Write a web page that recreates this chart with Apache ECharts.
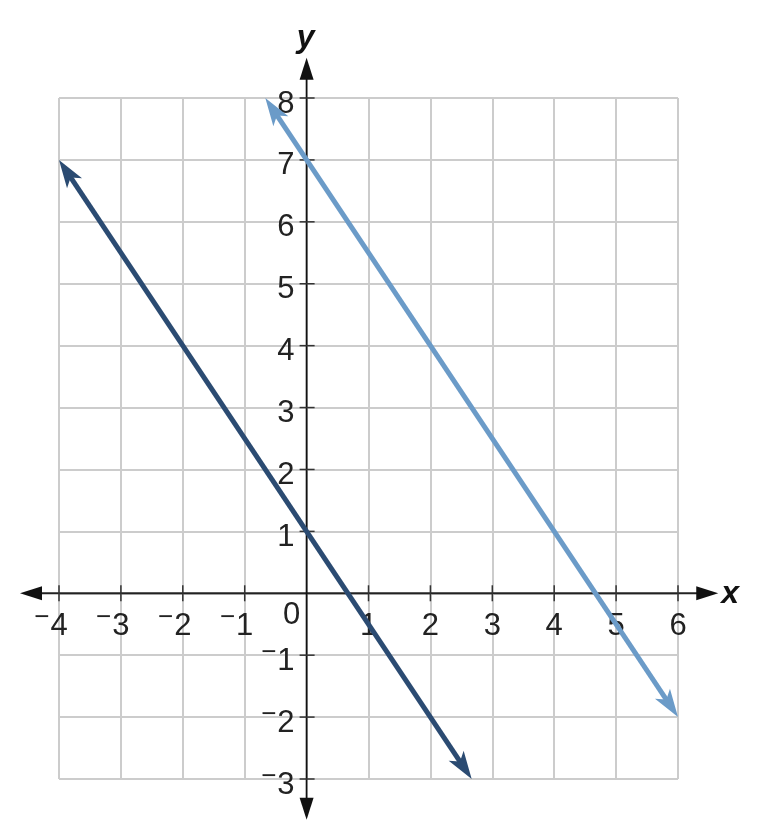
<!DOCTYPE html>
<html>
<head>
<meta charset="utf-8">
<script src="https://cdn.jsdelivr.net/npm/echarts@6/dist/echarts.min.js"></script>
<style>html,body{margin:0;padding:0;background:#fff}#c{width:766px;height:838px}</style>
</head>
<body>
<div id="c"></div>
<script>
// ---- data ----
const xRange = [-4, 6];
const yRange = [-3, 8];
const xAxisExtent = [-4.63, 6.65];   // arrow tips of the x axis
const yAxisExtent = [-3.66, 8.65];   // arrow tips of the y axis
const xTickValues = [-4, -3, -2, -1, 1, 2, 3, 4, 5, 6];
const xTickLabels = ['−4', '−3', '−2', '−1', '1', '2', '3', '4', '5', '6'];
const yTickValues = [-3, -2, -1, 1, 2, 3, 4, 5, 6, 7, 8];
const yTickLabels = ['−3', '−2', '−1', '1', '2', '3', '4', '5', '6', '7', '8'];
// lines: y = -1.5x + 1 (dark), y = -1.5x + 7 (light)
const darkLine = [[-4, 7], [2.667, -3]];
const lightLine = [[-0.667, 8], [6, -2]];

const FONT = '"Liberation Sans", Arial, sans-serif';
const FS = 31, DIGIT_W = 0.556 * FS;

function arrowHead(tip, from, L, W, notch, fill) {
  const dx = tip[0] - from[0], dy = tip[1] - from[1];
  const len = Math.hypot(dx, dy);
  const ux = dx / len, uy = dy / len;
  const px = -uy, py = ux;
  const bx = tip[0] - ux * L, by = tip[1] - uy * L;
  const nx = tip[0] - ux * (L - notch), ny = tip[1] - uy * (L - notch);
  return {
    type: 'polygon',
    shape: { points: [tip, [bx + px * W, by + py * W], [nx, ny], [bx - px * W, by - py * W]] },
    style: { fill: fill }
  };
}

// label = digits (centered / right aligned) + raised minus as its own text piece
function labelEls(label, x, y, align) {
  const neg = label.charAt(0) === '−';
  const digits = neg ? label.slice(1) : label;
  const w = digits.length * DIGIT_W;
  const left = align === 'center' ? x - w / 2 : x - w;
  const els = [{ type: 'text', x: x, y: y,
    style: { text: digits, fill: '#222', font: FS + 'px ' + FONT, align: align, verticalAlign: 'middle' } }];
  if (neg) {
    els.push({ type: 'text', x: left - 1, y: y - 8,
      style: { text: '−', fill: '#222', font: '26px ' + FONT, align: 'right', verticalAlign: 'middle' } });
  }
  return els;
}

const chart = echarts.init(document.getElementById('c'));
chart.setOption({
  animation: false,
  grid: { left: 59, right: 88, top: 98, bottom: 59, containLabel: false },
  xAxis: {
    type: 'value', min: xRange[0], max: xRange[1], interval: 1,
    axisLine: { show: false }, axisTick: { show: false }, axisLabel: { show: false },
    splitLine: { show: true, showMinLine: true, showMaxLine: true, lineStyle: { color: '#cccccc', width: 2 } }
  },
  yAxis: {
    type: 'value', min: yRange[0], max: yRange[1], interval: 1,
    axisLine: { show: false }, axisTick: { show: false }, axisLabel: { show: false },
    splitLine: { show: true, showMinLine: true, showMaxLine: true, lineStyle: { color: '#cccccc', width: 2 } }
  },
  series: [
    {
      type: 'custom', name: 'axes', clip: false, silent: true, z: 3,
      data: [[0, 0]],
      renderItem: function (params, api) {
        const ch = [];
        const o = api.coord([0, 0]);
        const xl = api.coord([xAxisExtent[0], 0]), xr = api.coord([xAxisExtent[1], 0]);
        const yb = api.coord([0, yAxisExtent[0]]), yt = api.coord([0, yAxisExtent[1]]);
        ch.push({ type: 'line', shape: { x1: xl[0] + 10, y1: o[1], x2: xr[0] - 10, y2: o[1] }, style: { stroke: '#222', lineWidth: 2 } });
        ch.push({ type: 'line', shape: { x1: o[0], y1: yb[1] - 10, x2: o[0], y2: yt[1] + 10 }, style: { stroke: '#111', lineWidth: 1.8 } });
        ch.push(arrowHead([xl[0], o[1]], [o[0], o[1]], 22, 7, 0, '#111'));
        ch.push(arrowHead([xr[0], o[1]], [o[0], o[1]], 22, 7, 0, '#111'));
        ch.push(arrowHead([o[0], yt[1]], [o[0], o[1]], 22, 7, 0, '#111'));
        ch.push(arrowHead([o[0], yb[1]], [o[0], o[1]], 22, 7, 0, '#111'));
        xTickValues.forEach(function (v, i) {
          const p = api.coord([v, 0]);
          ch.push({ type: 'line', shape: { x1: p[0], y1: p[1] - 8, x2: p[0], y2: p[1] + 8 }, style: { stroke: '#333', lineWidth: 1.5 } });
          labelEls(xTickLabels[i], p[0], p[1] + 33, 'center').forEach(function (e) { ch.push(e); });
        });
        yTickValues.forEach(function (v, i) {
          const p = api.coord([0, v]);
          ch.push({ type: 'line', shape: { x1: p[0] - 7, y1: p[1], x2: p[0] + 8, y2: p[1] }, style: { stroke: '#333', lineWidth: 1.5 } });
          labelEls(yTickLabels[i], p[0] - 12, p[1] + 6, 'right').forEach(function (e) { ch.push(e); });
        });
        ch.push({ type: 'text', x: o[0] - 15, y: o[1] + 22,
          style: { text: '0', fill: '#222', font: FS + 'px ' + FONT, align: 'center', verticalAlign: 'middle' } });
        ch.push({ type: 'text', x: xr[0] + 12, y: o[1] + 1,
          style: { text: 'x', fill: '#111', font: 'italic bold 32px ' + FONT, align: 'center', verticalAlign: 'middle' } });
        ch.push({ type: 'text', x: o[0] - 1, y: yt[1] - 20,
          style: { text: 'y', fill: '#111', font: 'italic bold 32px ' + FONT, align: 'center', verticalAlign: 'middle' } });
        return { type: 'group', children: ch };
      }
    },
    {
      type: 'custom', name: 'lines', clip: false, z: 4,
      data: [
        [darkLine[0][0], darkLine[0][1], darkLine[1][0], darkLine[1][1], 0],
        [lightLine[0][0], lightLine[0][1], lightLine[1][0], lightLine[1][1], 1]
      ],
      renderItem: function (params, api) {
        const colors = ['#2b4b72', '#6b9bc8'];
        const c = colors[api.value(4)];
        const a = api.coord([api.value(0), api.value(1)]);
        const b = api.coord([api.value(2), api.value(3)]);
        const dx = b[0] - a[0], dy = b[1] - a[1], len = Math.hypot(dx, dy);
        const ux = dx / len, uy = dy / len, s = 18;
        return {
          type: 'group',
          children: [
            { type: 'line', shape: { x1: a[0] + ux * s, y1: a[1] + uy * s, x2: b[0] - ux * s, y2: b[1] - uy * s },
              style: { stroke: c, lineWidth: 5 } },
            arrowHead(a, b, 28, 9, 7, c),
            arrowHead(b, a, 28, 9, 7, c)
          ]
        };
      }
    }
  ]
});
</script>
</body>
</html>
